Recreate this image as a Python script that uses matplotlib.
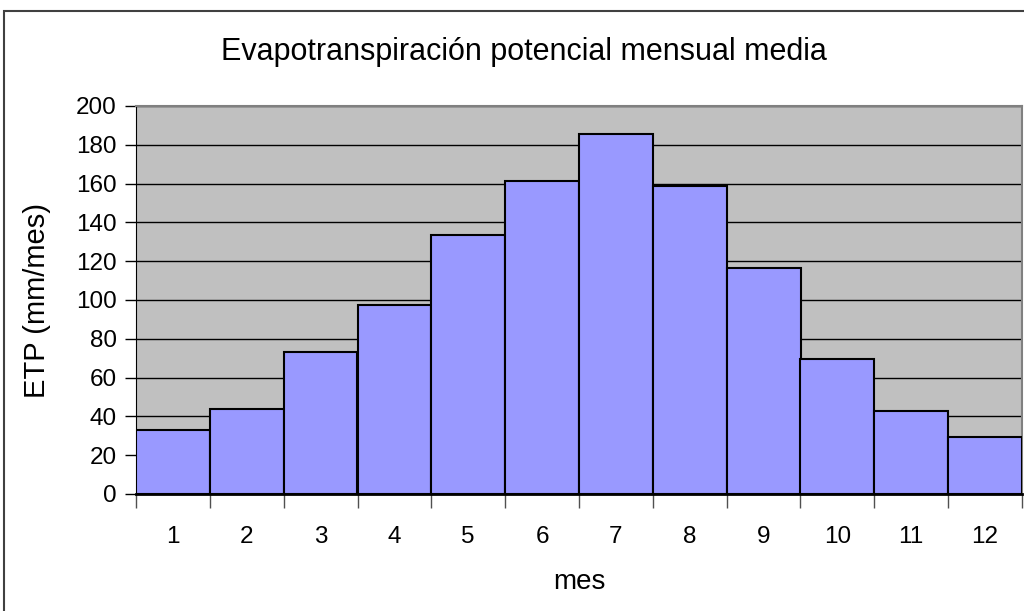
import numpy as np
import matplotlib.pyplot as plt
from matplotlib.patches import Rectangle

plt.rcParams['font.family'] = ['Liberation Sans', 'DejaVu Sans']

# ETP mensual media (mm/mes)
meses = [1, 2, 3, 4, 5, 6, 7, 8, 9, 10, 11, 12]
etp = [33.0, 43.6, 73.2, 97.6, 133.3, 161.3, 185.7, 158.6, 116.7, 69.8, 42.8, 29.6]
yticks = [0, 20, 40, 60, 80, 100, 120, 140, 160, 180, 200]

W, H = 1024, 611
fig = plt.figure(figsize=(W / 100, H / 100), dpi=100)

# marco exterior del grafico
fig.patches.append(Rectangle((4 / W, -0.05), 1.1, 1 - 11 / H + 0.05,
                             transform=fig.transFigure, fill=False,
                             edgecolor='#404040', linewidth=1.5))

ax = fig.add_axes([136 / W, (H - 494) / H, 886 / W, 388 / H])
ax.set_facecolor('#C0C0C0')

x = np.arange(len(meses))
ax.bar(x, etp, width=1.0, color='#9999FF', edgecolor='black', linewidth=1.5, zorder=3)

ax.set_xlim(-0.5, len(meses) - 0.5)
ax.set_ylim(0, 200)
ax.set_yticks(yticks)
ax.yaxis.grid(True, color='black', linewidth=1.0, zorder=0)
ax.set_axisbelow(True)

ax.set_xticks(x)
ax.set_xticklabels([str(m) for m in meses])
ax.set_xticks(np.arange(-0.5, len(meses)), minor=True)
ax.tick_params(axis='x', which='major', length=0, pad=23, labelsize=17.5)
ax.tick_params(axis='x', which='minor', length=10, width=1, color='#505050', direction='out')
ax.tick_params(axis='y', length=8, width=1, direction='out', labelsize=17.5, pad=6)

for s in ['top', 'right']:
    ax.spines[s].set_color('#808080')
    ax.spines[s].set_linewidth(1.5)
ax.spines['left'].set_color('black')
ax.spines['bottom'].set_color('black')
ax.spines['bottom'].set_linewidth(2)
ax.spines['bottom'].set_zorder(4)

ax.set_ylabel('ETP (mm/mes)', fontsize=21, labelpad=18)
ax.set_xlabel('mes', fontsize=20, labelpad=15)
fig.text(524 / W, 1 - 52 / H, 'Evapotranspiración potencial mensual media',
         ha='center', va='center', fontsize=22)

fig.savefig('out.png', dpi=100)
